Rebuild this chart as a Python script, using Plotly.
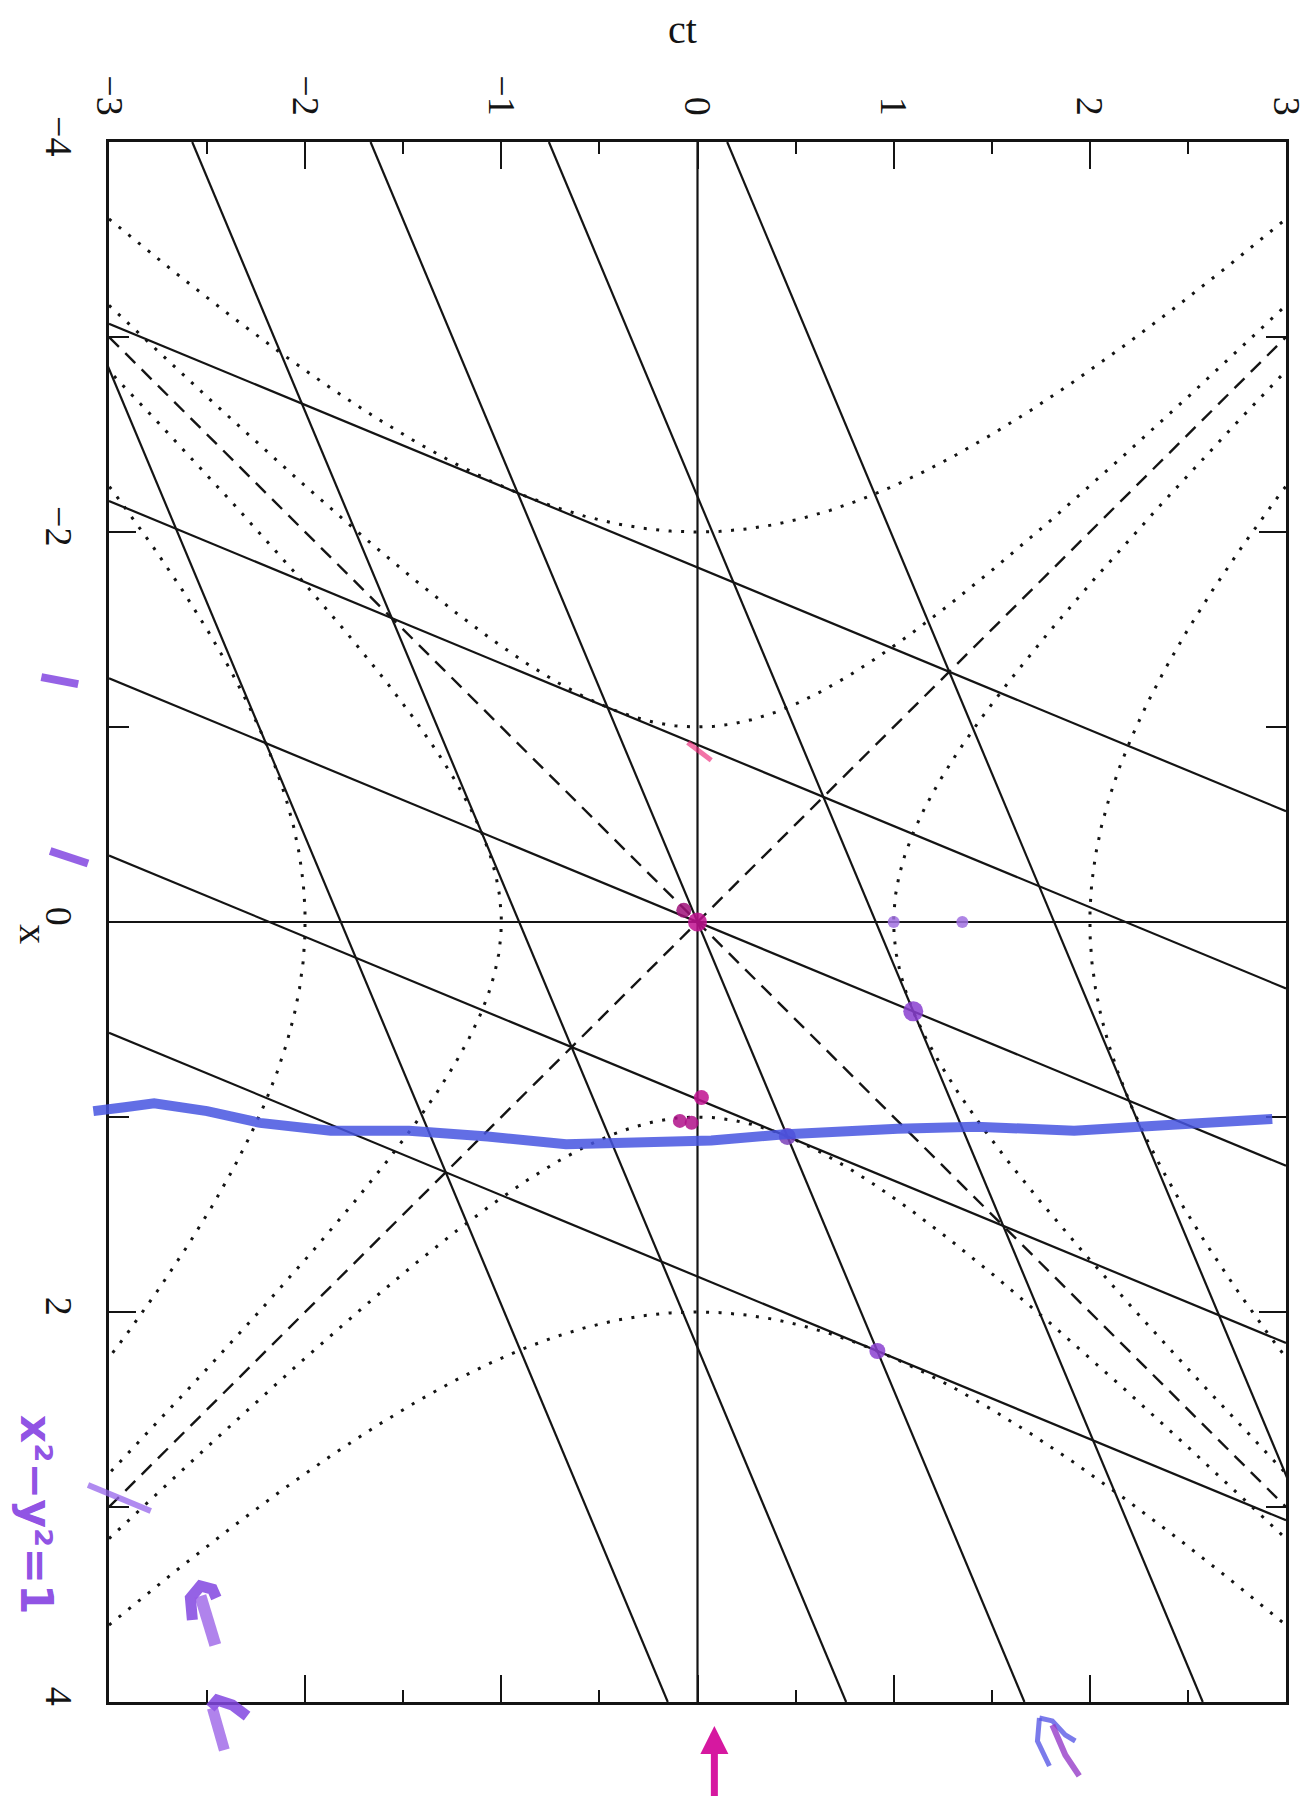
import numpy as np
import plotly.graph_objects as go

# ---------------- data ----------------
beta = 5 / 12                      # speed of the primed frame, v/c
frame_index = [-2, -1, 0, 1, 2]    # x' = m and ct' = n grid lines
hyper_levels = [1, 2]              # x^2 - (ct)^2 = +/- a^2
ct_range = [-3, 3]
x_range = [-4, 4]
ct_tick_step = 1
x_tick_step = 2

# hand-drawn marks on the scanned page (in ct, x units)
blue_ct = [-3.08, -2.92, -2.77, -2.5, -2.23, -1.87, -1.47, -1.07, -0.67, -0.27, 0.07, 0.43, 1.02, 1.42, 1.92, 2.42, 2.93]
blue_x = [0.97, 0.95, 0.93, 0.97, 1.03, 1.07, 1.07, 1.10, 1.14, 1.13, 1.12, 1.09, 1.06, 1.05, 1.07, 1.04, 1.01]

dot_ct = [0.0, -0.07, 1.10, 0.458, 0.917, 1.0, 1.35, 0.02, -0.03, -0.09]
dot_x = [0.0, -0.06, 0.458, 1.10, 2.20, 0.0, 0.0, 0.90, 1.03, 1.02]
dot_color = ["#c0108f", "#a0107a", "#8a3fd0", "#7a3fb8", "#8a3fd0", "#a070e0", "#a070e0",
             "#c0108f", "#b0108a", "#b0108a"]
dot_size = [19, 15, 20, 17, 16, 12, 12, 15, 14, 14]

pink_ct = [-0.05, 0.07]
pink_x = [-0.92, -0.83]

strokes = [  # (ct list, x list, colour, width)
    ([-3.345, -3.157], [-1.256, -1.22], "rgba(130,70,225,0.85)", 8),
    ([-3.30, -3.107], [-0.364, -0.30], "rgba(130,70,225,0.85)", 8),
    ([-3.107, -2.787], [2.887, 3.02], "rgba(150,100,235,0.75)", 6),
    ([-2.575, -2.585, -2.534, -2.473, -2.453], [3.579, 3.467, 3.405, 3.421, 3.467], "rgba(130,70,225,0.85)", 11),
    ([-2.534, -2.458], [3.456, 3.708], "rgba(150,90,230,0.75)", 12),
    ([-2.483, -2.448, -2.372, -2.296], [4.031, 3.990, 4.015, 4.072], "rgba(130,70,225,0.85)", 11),
    ([-2.473, -2.412], [4.031, 4.246], "rgba(150,90,230,0.75)", 11),
    ([1.743, 1.733, 1.794], [4.082, 4.200, 4.328], "rgba(90,90,230,0.8)", 5),
    ([1.743, 1.809, 1.875, 1.926], [4.082, 4.097, 4.169, 4.200], "rgba(90,90,230,0.8)", 5),
    ([1.809, 1.875, 1.946], [4.118, 4.272, 4.379], "rgba(150,60,200,0.8)", 6),
]

# ---------------- figure ----------------
gamma = 1 / np.sqrt(1 - beta ** 2)
fig = go.Figure()
ink = "#141414"
solid = dict(color=ink, width=2.2)
dashed = dict(color=ink, width=2.4, dash="14px,9px")
dotted = dict(color=ink, width=3, dash="3px,9.5px")

ct_end = np.array(ct_range, dtype=float)
x_end = np.array(x_range, dtype=float)

# original axes
fig.add_trace(go.Scatter(x=ct_end, y=[0, 0], mode="lines", line=solid))
fig.add_trace(go.Scatter(x=[0, 0], y=x_end, mode="lines", line=solid))

# primed frame: world lines x' = m and simultaneity lines ct' = n
for m in frame_index:
    fig.add_trace(go.Scatter(x=ct_end, y=beta * ct_end + m / gamma, mode="lines", line=solid))
for n in frame_index:
    fig.add_trace(go.Scatter(x=beta * x_end + n / gamma, y=x_end, mode="lines", line=solid))

# light cone
for s in (1, -1):
    fig.add_trace(go.Scatter(x=ct_end, y=s * ct_end, mode="lines", line=dashed))

# invariant hyperbolae
ct_s = np.linspace(ct_range[0], ct_range[1], 600)
x_s = np.linspace(x_range[0], x_range[1], 600)
for a in hyper_levels:
    for s in (1, -1):
        fig.add_trace(go.Scatter(x=ct_s, y=s * np.sqrt(a ** 2 + ct_s ** 2), mode="lines", line=dotted))
        fig.add_trace(go.Scatter(x=s * np.sqrt(a ** 2 + x_s ** 2), y=x_s, mode="lines", line=dotted))


def to_paper(ct, x):
    ct = np.asarray(ct, dtype=float)
    x = np.asarray(x, dtype=float)
    return (ct - ct_range[0]) / (ct_range[1] - ct_range[0]), (x_range[1] - x) / (x_range[1] - x_range[0])


def path_of(ct, x):
    px, py = to_paper(ct, x)
    return "M " + " L ".join(f"{a:.5f},{b:.5f}" for a, b in zip(px, py))


shapes = []
# blue marker line
shapes.append(dict(type="path", xref="paper", yref="paper", path=path_of(blue_ct, blue_x),
                   line=dict(color="rgba(70,85,225,0.85)", width=10)))
shapes.append(dict(type="path", xref="paper", yref="paper", path=path_of(pink_ct, pink_x),
                   line=dict(color="rgba(235,40,120,0.65)", width=5)))
for cts, xs, col, w in strokes:
    shapes.append(dict(type="path", xref="paper", yref="paper", path=path_of(cts, xs),
                       line=dict(color=col, width=w)))

fig.add_trace(go.Scatter(x=dot_ct, y=dot_x, mode="markers",
                         marker=dict(color=dot_color, size=dot_size, opacity=0.85, line=dict(width=0))))

serif = "Liberation Serif, Times New Roman, serif"
axis_common = dict(
    ticks="inside", tickcolor=ink, tickwidth=2, ticklen=27,
    showline=True, linecolor=ink, linewidth=3, mirror="allticks",
    showgrid=False, zeroline=False, tickangle=90,
    tickfont=dict(family=serif, size=38, color=ink),
)
fig.update_layout(
    width=1312, height=1796,
    paper_bgcolor="white", plot_bgcolor="white",
    margin=dict(l=101, r=27, t=134, b=102),
    showlegend=False,
    xaxis=dict(range=ct_range, side="top", tickmode="linear", tick0=0, dtick=ct_tick_step,
               ticklabelstandoff=10,
               minor=dict(dtick=ct_tick_step / 2, ticks="inside", ticklen=12, tickwidth=2,
                          tickcolor=ink, showgrid=False),
               **axis_common),
    yaxis=dict(range=[x_range[1], x_range[0]], tickmode="linear", tick0=0, dtick=x_tick_step,
               ticklabelstandoff=14,
               minor=dict(dtick=x_tick_step / 2, ticks="inside", ticklen=20, tickwidth=2,
                          tickcolor=ink, showgrid=False),
               **axis_common),
    shapes=shapes,
    annotations=[
        dict(text="ct", xref="paper", yref="paper", x=0.487, y=1.0718, xanchor="center", yanchor="middle",
             showarrow=False, font=dict(family=serif, size=40, color=ink)),
        dict(text="x", xref="paper", yref="paper", x=-0.064, y=0.4923, xanchor="center", yanchor="middle",
             showarrow=False, textangle=90, font=dict(family=serif, size=40, color=ink)),
        dict(text="<b>x²−y²=1</b>", xref="paper", yref="paper", x=-0.062, y=0.12,
             xanchor="center", yanchor="middle", showarrow=False,
             textangle=90, font=dict(family="DejaVu Sans", size=44, color="rgba(130,60,225,0.9)")),
        dict(text="", xref="x", yref="paper", x=0.086, y=-0.0154, ax=0, ay=75,
             showarrow=True, arrowhead=2, arrowsize=0.8, arrowwidth=7, arrowcolor="rgba(210,0,150,0.9)"),
    ],
)

fig.write_html("out.html")
